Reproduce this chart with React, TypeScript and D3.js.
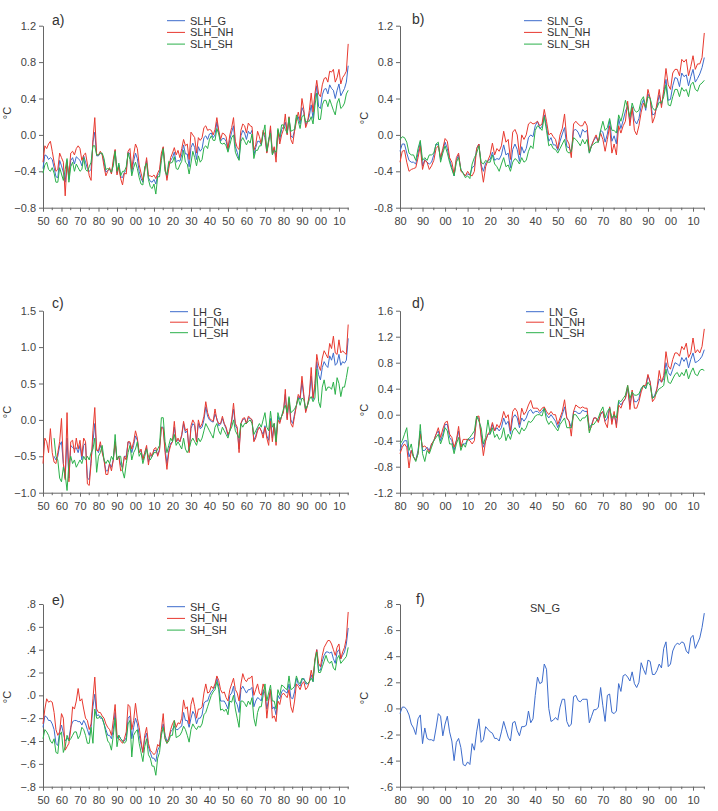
import React from 'react';
import * as d3 from 'd3';

const BLUE = '#3d6ccc';
const RED = '#e8392f';
const GREEN = '#2bb14a';
const FONT = 'Liberation Sans, Arial, sans-serif';

// annual series, HadCRUT-style records run 1850-2015, NOAA-style 1880-2015
const yearsH = d3.range(1850, 2016);
const yearsN = d3.range(1880, 2016);

const slhG = [
  -0.37,-0.22,-0.23,-0.27,-0.25,-0.27,-0.36,-0.46,-0.47,-0.28,
  -0.34,-0.41,-0.52,-0.28,-0.49,-0.28,-0.25,-0.32,-0.24,-0.26,
  -0.28,-0.34,-0.23,-0.30,-0.37,-0.40,-0.38,-0.08,0.03,-0.23,
  -0.23,-0.20,-0.21,-0.30,-0.41,-0.39,-0.37,-0.42,-0.31,-0.17,
  -0.42,-0.33,-0.46,-0.47,-0.41,-0.39,-0.19,-0.21,-0.41,-0.29,
  -0.20,-0.26,-0.40,-0.48,-0.52,-0.38,-0.28,-0.47,-0.51,-0.52,
  -0.49,-0.54,-0.44,-0.42,-0.24,-0.14,-0.38,-0.47,-0.33,-0.28,
  -0.25,-0.19,-0.30,-0.28,-0.29,-0.22,-0.11,-0.21,-0.21,-0.35,
  -0.14,-0.09,-0.14,-0.27,-0.13,-0.18,-0.15,-0.03,-0.01,-0.05,
  0.01,0.02,-0.03,0.00,0.14,0.03,-0.07,-0.04,-0.04,-0.07,
  -0.17,-0.05,0.03,0.10,-0.13,-0.19,-0.27,-0.01,0.05,0.02,
  -0.05,0.04,0.01,0.05,-0.22,-0.14,-0.07,-0.07,-0.11,0.03,
  -0.03,-0.19,-0.07,0.06,-0.21,-0.15,-0.24,0.05,-0.06,0.06,
  0.09,0.14,0.01,0.19,-0.01,-0.03,0.05,0.19,0.20,0.12,
  0.30,0.25,0.11,0.15,0.21,0.33,0.18,0.39,0.54,0.31,
  0.29,0.44,0.50,0.51,0.45,0.55,0.51,0.49,0.40,0.49,
  0.56,0.43,0.47,0.51,0.58,0.76,
];
const slhNH = [
  -0.30,-0.12,-0.15,-0.10,-0.07,-0.18,-0.30,-0.40,-0.38,-0.20,
  -0.25,-0.30,-0.67,-0.30,-0.45,-0.20,-0.18,-0.22,-0.15,-0.12,
  -0.15,-0.28,-0.22,-0.20,-0.32,-0.45,-0.50,-0.05,0.19,-0.22,
  -0.22,-0.18,-0.22,-0.35,-0.45,-0.40,-0.36,-0.43,-0.27,-0.16,
  -0.44,-0.35,-0.48,-0.55,-0.42,-0.43,-0.18,-0.15,-0.38,-0.22,
  -0.10,-0.15,-0.33,-0.42,-0.50,-0.40,-0.25,-0.45,-0.45,-0.46,
  -0.44,-0.48,-0.42,-0.38,-0.20,-0.13,-0.35,-0.50,-0.37,-0.25,
  -0.20,-0.14,-0.22,-0.17,-0.25,-0.15,-0.05,-0.12,-0.10,-0.27,
  0.03,0.00,-0.03,-0.20,-0.03,-0.06,-0.03,0.08,0.10,0.05,
  0.06,0.05,0.00,0.06,0.19,0.05,-0.05,0.02,0.01,-0.02,
  -0.15,0.00,0.08,0.19,-0.07,-0.14,-0.16,0.05,0.12,0.10,
  0.02,0.13,0.10,0.09,-0.17,-0.11,0.04,-0.02,-0.10,0.05,
  0.00,-0.20,-0.08,0.10,-0.20,-0.13,-0.30,0.05,-0.10,0.00,
  0.06,0.23,0.00,0.20,-0.05,-0.10,0.04,0.15,0.25,0.16,
  0.40,0.28,0.08,0.14,0.27,0.46,0.25,0.45,0.60,0.45,
  0.42,0.55,0.62,0.63,0.58,0.70,0.69,0.72,0.58,0.63,
  0.72,0.56,0.63,0.66,0.70,1.00,
];
const slhSH = [
  -0.42,-0.33,-0.30,-0.38,-0.40,-0.36,-0.42,-0.52,-0.52,-0.36,
  -0.43,-0.50,-0.38,-0.26,-0.52,-0.35,-0.30,-0.40,-0.32,-0.36,
  -0.40,-0.38,-0.25,-0.38,-0.40,-0.35,-0.30,-0.12,-0.12,-0.22,
  -0.22,-0.20,-0.20,-0.26,-0.38,-0.37,-0.38,-0.41,-0.34,-0.18,
  -0.40,-0.31,-0.45,-0.40,-0.40,-0.35,-0.20,-0.27,-0.45,-0.36,
  -0.30,-0.37,-0.47,-0.54,-0.55,-0.35,-0.31,-0.49,-0.57,-0.59,
  -0.54,-0.65,-0.46,-0.46,-0.28,-0.15,-0.40,-0.44,-0.29,-0.31,
  -0.30,-0.24,-0.37,-0.38,-0.33,-0.29,-0.17,-0.30,-0.32,-0.43,
  -0.31,-0.18,-0.25,-0.34,-0.23,-0.30,-0.27,-0.14,-0.12,-0.15,
  -0.05,-0.01,-0.06,-0.06,0.07,0.01,-0.09,-0.10,-0.09,-0.12,
  -0.19,-0.11,-0.03,0.00,-0.19,-0.24,-0.28,-0.07,-0.03,-0.07,
  -0.11,-0.06,-0.09,0.01,-0.26,-0.17,-0.17,-0.12,-0.12,0.01,
  0.11,-0.18,-0.05,0.02,-0.22,-0.17,-0.19,0.07,-0.02,0.11,
  0.11,0.06,0.02,0.19,0.04,0.05,0.06,0.22,0.15,0.07,
  0.20,0.22,0.14,0.15,0.15,0.20,0.12,0.32,0.46,0.17,
  0.17,0.33,0.38,0.38,0.31,0.39,0.33,0.27,0.22,0.35,
  0.40,0.29,0.31,0.35,0.45,0.49,
];

const slnG = [
  -0.18,-0.10,-0.10,-0.20,-0.28,-0.30,-0.30,-0.32,-0.20,-0.08,
  -0.34,-0.27,-0.30,-0.32,-0.30,-0.22,-0.10,-0.11,-0.27,-0.17,
  -0.08,-0.15,-0.27,-0.36,-0.45,-0.28,-0.22,-0.38,-0.42,-0.45,
  -0.43,-0.44,-0.36,-0.34,-0.15,-0.10,-0.33,-0.40,-0.31,-0.28,
  -0.27,-0.19,-0.28,-0.26,-0.27,-0.22,-0.11,-0.22,-0.20,-0.36,
  -0.16,-0.10,-0.16,-0.29,-0.13,-0.20,-0.15,-0.03,0.00,-0.02,
  0.10,0.15,0.07,0.09,0.22,0.09,-0.07,-0.03,-0.11,-0.11,
  -0.17,-0.07,0.01,0.08,-0.13,-0.14,-0.19,0.05,0.06,0.03,
  -0.03,0.06,0.03,0.05,-0.20,-0.11,-0.06,-0.02,-0.08,0.05,
  0.03,-0.08,0.01,0.16,-0.07,-0.01,-0.10,0.18,0.07,0.16,
  0.26,0.32,0.14,0.31,0.16,0.12,0.18,0.32,0.39,0.27,
  0.45,0.40,0.22,0.23,0.31,0.44,0.33,0.46,0.61,0.38,
  0.39,0.54,0.63,0.62,0.53,0.68,0.64,0.66,0.54,0.64,
  0.72,0.58,0.62,0.67,0.74,0.85,
];
const slnNH = [
  -0.30,-0.18,-0.17,-0.30,-0.40,-0.38,-0.37,-0.36,-0.25,-0.12,
  -0.38,-0.28,-0.30,-0.38,-0.34,-0.28,-0.15,-0.12,-0.25,-0.15,
  -0.04,-0.07,-0.25,-0.30,-0.43,-0.25,-0.20,-0.40,-0.42,-0.45,
  -0.40,-0.44,-0.45,-0.40,-0.15,-0.10,-0.35,-0.52,-0.35,-0.28,
  -0.22,-0.09,-0.22,-0.15,-0.18,-0.12,0.04,-0.08,-0.05,-0.27,
  0.03,0.06,0.00,-0.22,0.00,-0.05,0.00,0.12,0.14,0.12,
  0.13,0.15,0.10,0.12,0.28,0.15,0.00,0.02,-0.02,-0.05,
  -0.15,0.00,0.07,0.23,-0.05,-0.10,-0.25,0.12,0.15,0.12,
  0.10,0.10,0.15,0.10,-0.18,-0.12,-0.05,0.00,-0.08,0.02,
  -0.05,-0.18,-0.05,0.10,-0.20,-0.10,-0.22,0.10,0.02,0.10,
  0.15,0.37,0.10,0.30,0.05,0.00,0.10,0.25,0.35,0.30,
  0.50,0.40,0.13,0.20,0.35,0.50,0.30,0.50,0.73,0.55,
  0.50,0.68,0.72,0.72,0.65,0.83,0.80,0.83,0.65,0.75,
  0.87,0.72,0.78,0.78,0.85,1.12,
];
const slnSH = [
  -0.05,-0.02,-0.03,-0.08,-0.20,-0.22,-0.22,-0.28,-0.15,-0.06,
  -0.28,-0.25,-0.28,-0.22,-0.22,-0.20,-0.10,-0.08,-0.30,-0.20,
  -0.12,-0.20,-0.30,-0.38,-0.45,-0.30,-0.25,-0.38,-0.42,-0.47,
  -0.45,-0.48,-0.32,-0.25,-0.20,-0.12,-0.30,-0.32,-0.28,-0.30,
  -0.30,-0.22,-0.32,-0.35,-0.40,-0.32,-0.25,-0.35,-0.33,-0.40,
  -0.30,-0.26,-0.28,-0.32,-0.25,-0.30,-0.28,-0.18,-0.12,-0.15,
  0.05,0.10,0.08,0.05,0.20,0.05,-0.12,-0.10,-0.15,-0.16,
  -0.20,-0.15,-0.10,-0.05,-0.18,-0.20,-0.18,-0.03,-0.05,-0.08,
  -0.12,-0.05,-0.10,-0.05,-0.20,-0.12,-0.10,-0.08,-0.08,0.05,
  0.15,0.05,0.08,0.18,0.05,0.05,0.02,0.22,0.15,0.25,
  0.38,0.30,0.20,0.35,0.27,0.25,0.27,0.38,0.42,0.30,
  0.42,0.40,0.30,0.27,0.30,0.36,0.35,0.42,0.55,0.33,
  0.32,0.42,0.50,0.50,0.42,0.52,0.48,0.50,0.42,0.55,
  0.58,0.50,0.48,0.55,0.57,0.60,
];

// land records: the global and southern series begin in 1856
const lhG = [
  null,null,null,null,null,null,-0.50,-0.55,-0.50,-0.35,
  -0.30,-0.60,-0.80,-0.25,-0.80,-0.35,-0.38,-0.40,-0.38,-0.45,
  -0.35,-0.55,-0.35,-0.32,-0.80,-0.82,-0.55,-0.30,-0.05,-0.40,
  -0.45,-0.35,-0.42,-0.55,-0.70,-0.70,-0.60,-0.65,-0.55,-0.30,
  -0.55,-0.50,-0.62,-0.65,-0.50,-0.50,-0.30,-0.32,-0.45,-0.35,
  -0.22,-0.28,-0.45,-0.42,-0.55,-0.45,-0.38,-0.58,-0.48,-0.50,
  -0.42,-0.42,-0.48,-0.40,-0.10,-0.10,-0.40,-0.60,-0.42,-0.32,
  -0.30,-0.10,-0.30,-0.27,-0.30,-0.22,-0.05,-0.18,-0.15,-0.42,
  -0.12,-0.05,-0.08,-0.30,-0.05,-0.12,-0.10,0.00,0.18,0.05,
  0.00,-0.02,-0.03,0.08,0.02,-0.08,-0.06,0.02,-0.06,-0.12,
  -0.22,-0.15,-0.02,0.15,-0.08,-0.12,-0.40,-0.05,0.00,0.02,
  -0.05,0.03,0.02,0.00,-0.28,-0.22,-0.12,-0.10,-0.15,-0.20,
  -0.08,-0.22,-0.28,0.02,-0.25,-0.05,-0.30,0.05,-0.03,0.05,
  0.12,0.35,0.02,0.28,0.00,-0.05,0.08,0.20,0.32,0.28,
  0.52,0.32,0.12,0.20,0.32,0.60,0.28,0.45,0.80,0.62,
  0.55,0.72,0.80,0.75,0.72,0.88,0.82,0.92,0.75,0.78,
  0.90,0.75,0.80,0.78,0.82,1.12,
];
const lhNH = [
  -0.60,-0.25,-0.30,-0.45,-0.12,-0.45,-0.58,-0.60,-0.45,-0.30,
  0.02,-0.60,-0.82,0.10,-0.85,-0.30,-0.28,-0.45,-0.25,-0.40,
  -0.28,-0.50,-0.25,-0.30,-0.88,-0.90,-0.60,-0.15,0.17,-0.42,
  -0.42,-0.30,-0.45,-0.55,-0.75,-0.75,-0.60,-0.70,-0.55,-0.30,
  -0.55,-0.50,-0.70,-0.68,-0.50,-0.55,-0.30,-0.30,-0.40,-0.30,
  -0.15,-0.25,-0.45,-0.40,-0.55,-0.45,-0.35,-0.62,-0.45,-0.50,
  -0.40,-0.38,-0.50,-0.42,-0.10,-0.12,-0.45,-0.68,-0.45,-0.35,
  -0.30,-0.02,-0.30,-0.25,-0.30,-0.20,-0.02,-0.15,-0.12,-0.45,
  -0.08,0.00,-0.05,-0.30,0.00,-0.10,-0.05,0.05,0.25,0.10,
  0.02,0.00,-0.02,0.15,0.00,-0.05,-0.05,0.05,-0.05,-0.10,
  -0.20,-0.15,0.00,0.23,-0.05,-0.10,-0.45,-0.05,0.02,0.03,
  -0.05,0.05,0.03,0.00,-0.30,-0.25,-0.15,-0.10,-0.15,-0.25,
  -0.10,-0.25,-0.35,-0.02,-0.30,-0.05,-0.35,0.00,-0.05,0.05,
  0.10,0.42,0.00,0.30,-0.05,-0.10,0.05,0.20,0.35,0.30,
  0.60,0.35,0.10,0.20,0.35,0.72,0.30,0.50,0.90,0.75,
  0.68,0.85,0.95,0.90,0.85,1.05,0.98,1.15,0.92,0.90,
  1.10,0.92,0.95,0.92,0.90,1.31,
];
const lhSH = [
  null,null,null,null,null,null,-0.25,-0.50,-0.55,-0.80,
  -0.85,-0.65,-0.75,-0.97,-0.60,-0.50,-0.60,-0.55,-0.65,-0.60,
  -0.55,-0.60,-0.50,-0.55,-0.50,-0.55,-0.45,-0.40,-0.25,-0.72,
  -0.50,-0.45,-0.35,-0.55,-0.60,-0.55,-0.60,-0.50,-0.55,-0.20,
  -0.55,-0.50,-0.50,-0.70,-0.80,-0.60,-0.45,-0.35,-0.55,-0.45,
  -0.40,-0.30,-0.50,-0.45,-0.60,-0.50,-0.40,-0.50,-0.55,-0.50,
  -0.45,-0.45,-0.40,-0.35,0.03,0.03,-0.30,-0.45,-0.35,-0.25,
  -0.30,-0.20,-0.35,-0.30,-0.35,-0.40,-0.25,-0.40,-0.45,-0.40,
  -0.30,-0.25,-0.30,-0.35,-0.25,-0.30,-0.25,-0.15,-0.05,-0.10,
  -0.15,-0.20,-0.25,-0.10,-0.05,-0.15,-0.20,-0.10,-0.15,-0.20,
  -0.25,-0.15,-0.10,0.00,-0.15,-0.20,-0.25,-0.05,-0.10,-0.05,
  -0.05,-0.02,0.00,-0.05,-0.20,-0.15,-0.10,-0.05,-0.10,0.00,
  0.10,-0.10,-0.15,0.12,-0.10,-0.05,-0.30,0.10,0.00,0.05,
  0.15,0.20,0.10,0.32,0.10,0.12,0.15,0.20,0.30,0.20,
  0.30,0.28,0.15,0.20,0.28,0.32,0.25,0.30,0.70,0.25,
  0.17,0.45,0.55,0.40,0.45,0.45,0.42,0.52,0.35,0.58,
  0.50,0.32,0.45,0.45,0.58,0.73,
];

const lnG = [
  -0.55,-0.45,-0.40,-0.40,-0.65,-0.55,-0.65,-0.70,-0.55,-0.25,
  -0.55,-0.55,-0.50,-0.55,-0.45,-0.40,-0.30,-0.25,-0.40,-0.30,
  -0.15,-0.15,-0.35,-0.40,-0.55,-0.40,-0.25,-0.50,-0.45,-0.45,
  -0.38,-0.38,-0.37,-0.35,-0.05,-0.05,-0.30,-0.50,-0.40,-0.30,
  -0.30,-0.15,-0.25,-0.20,-0.25,-0.20,-0.05,-0.15,-0.10,-0.30,
  -0.05,0.00,-0.05,-0.20,-0.05,-0.10,-0.05,0.05,0.08,0.02,
  0.05,0.05,0.02,0.05,0.10,0.00,-0.05,0.00,-0.05,-0.10,
  -0.20,-0.10,0.00,0.12,-0.05,-0.10,-0.20,0.05,0.05,0.02,
  0.02,0.07,0.05,0.05,-0.20,-0.15,-0.05,-0.05,-0.10,0.00,
  0.05,-0.10,-0.05,0.12,-0.10,0.00,-0.15,0.20,0.15,0.20,
  0.25,0.40,0.15,0.35,0.20,0.20,0.25,0.40,0.45,0.40,
  0.60,0.50,0.25,0.30,0.40,0.55,0.50,0.55,0.80,0.65,
  0.60,0.70,0.80,0.78,0.75,0.88,0.82,0.88,0.72,0.85,
  0.95,0.80,0.82,0.85,0.90,1.00,
];
const lnNH = [
  -0.60,-0.50,-0.45,-0.50,-0.82,-0.55,-0.65,-0.70,-0.60,-0.30,
  -0.50,-0.48,-0.52,-0.58,-0.45,-0.40,-0.30,-0.20,-0.35,-0.22,
  -0.12,-0.10,-0.30,-0.35,-0.50,-0.40,-0.18,-0.50,-0.38,-0.38,
  -0.38,-0.40,-0.45,-0.40,-0.03,-0.02,-0.35,-0.63,-0.40,-0.30,
  -0.25,-0.12,-0.25,-0.15,-0.20,-0.10,0.05,-0.05,0.00,-0.25,
  0.05,0.10,0.05,-0.15,0.10,0.00,0.05,0.15,0.22,0.10,
  0.10,0.10,0.05,0.10,0.12,0.05,0.00,0.05,0.00,0.00,
  -0.15,-0.05,0.05,0.23,-0.05,-0.10,-0.33,0.05,0.15,0.12,
  0.10,0.12,0.10,0.10,-0.25,-0.18,-0.05,-0.05,-0.12,0.02,
  0.05,-0.12,-0.20,0.12,-0.15,0.05,-0.20,0.15,0.10,0.20,
  0.25,0.45,0.08,0.38,0.10,0.10,0.20,0.35,0.45,0.45,
  0.62,0.50,0.20,0.25,0.40,0.68,0.50,0.60,0.97,0.75,
  0.70,0.85,0.95,0.95,0.90,1.05,1.00,1.10,0.88,0.95,
  1.18,0.95,1.00,0.95,1.05,1.32,
];
const lnSH = [
  -0.45,-0.40,-0.30,-0.20,-0.55,-0.45,-0.65,-0.72,-0.60,-0.15,
  -0.60,-0.72,-0.55,-0.60,-0.50,-0.40,-0.35,-0.30,-0.45,-0.35,
  -0.20,-0.25,-0.45,-0.45,-0.60,-0.45,-0.35,-0.55,-0.45,-0.50,
  -0.38,-0.35,-0.30,-0.25,-0.02,-0.10,-0.20,-0.45,-0.35,-0.08,
  -0.30,-0.20,-0.35,-0.30,-0.38,-0.35,-0.20,-0.40,-0.30,-0.38,
  -0.25,-0.20,-0.25,-0.30,-0.20,-0.25,-0.20,-0.10,-0.12,-0.08,
  -0.02,0.00,0.00,-0.02,0.10,-0.08,-0.15,-0.10,-0.15,-0.20,
  -0.25,-0.15,-0.10,-0.05,-0.20,-0.20,-0.20,0.00,0.00,-0.05,
  -0.10,-0.05,-0.05,0.00,-0.28,-0.15,-0.15,-0.10,-0.05,0.05,
  0.12,-0.05,0.05,0.10,-0.05,0.00,-0.05,0.22,0.20,0.25,
  0.30,0.45,0.25,0.35,0.30,0.30,0.32,0.40,0.45,0.40,
  0.50,0.45,0.25,0.28,0.35,0.40,0.42,0.45,0.70,0.50,
  0.48,0.55,0.62,0.65,0.58,0.65,0.60,0.70,0.55,0.65,
  0.72,0.62,0.60,0.68,0.70,0.68,
];

const shG = [
  -0.28,-0.18,-0.19,-0.22,-0.22,-0.25,-0.30,-0.42,-0.44,-0.32,
  -0.26,-0.33,-0.40,-0.38,-0.38,-0.28,-0.23,-0.22,-0.22,-0.23,
  -0.23,-0.26,-0.22,-0.25,-0.30,-0.35,-0.28,-0.10,0.01,-0.18,
  -0.17,-0.20,-0.20,-0.25,-0.30,-0.35,-0.35,-0.38,-0.30,-0.15,
  -0.38,-0.35,-0.38,-0.40,-0.40,-0.37,-0.20,-0.18,-0.38,-0.28,
  -0.20,-0.25,-0.35,-0.43,-0.50,-0.38,-0.33,-0.45,-0.50,-0.55,
  -0.55,-0.58,-0.48,-0.45,-0.32,-0.25,-0.35,-0.40,-0.38,-0.32,
  -0.30,-0.27,-0.30,-0.30,-0.28,-0.27,-0.15,-0.22,-0.22,-0.28,
  -0.20,-0.14,-0.17,-0.25,-0.20,-0.20,-0.17,-0.07,-0.05,-0.05,
  0.00,0.03,0.05,0.08,0.15,0.08,-0.05,-0.05,-0.05,-0.08,
  -0.12,0.00,0.02,0.08,-0.05,-0.08,-0.15,0.05,0.08,0.05,
  0.02,0.05,0.05,0.07,-0.10,-0.05,-0.02,-0.03,-0.05,0.05,
  0.02,-0.12,-0.03,0.05,-0.12,-0.10,-0.17,0.00,-0.03,0.03,
  0.05,0.03,0.02,0.10,-0.02,-0.03,0.03,0.15,0.10,0.08,
  0.13,0.15,0.10,0.10,0.12,0.18,0.12,0.30,0.40,0.22,
  0.22,0.30,0.35,0.38,0.38,0.37,0.38,0.32,0.28,0.38,
  0.40,0.32,0.35,0.38,0.45,0.59,
];
const shNH = [
  -0.25,-0.12,-0.03,-0.06,-0.05,-0.06,-0.15,-0.30,-0.35,-0.32,
  -0.16,-0.20,-0.48,-0.45,-0.42,-0.30,-0.10,-0.12,-0.05,0.06,
  -0.05,-0.03,-0.12,-0.20,-0.22,-0.30,-0.25,-0.03,0.16,-0.12,
  -0.15,-0.15,-0.18,-0.20,-0.25,-0.28,-0.30,-0.35,-0.22,-0.08,
  -0.35,-0.38,-0.40,-0.42,-0.38,-0.32,-0.08,-0.10,-0.30,-0.22,
  -0.07,-0.20,-0.28,-0.40,-0.50,-0.35,-0.28,-0.42,-0.48,-0.50,
  -0.52,-0.50,-0.43,-0.45,-0.30,-0.16,-0.38,-0.42,-0.38,-0.30,
  -0.25,-0.22,-0.28,-0.24,-0.25,-0.20,-0.04,-0.12,-0.10,-0.25,
  -0.08,-0.02,-0.10,-0.20,-0.12,-0.12,-0.10,0.02,0.10,0.02,
  0.03,0.08,0.06,0.10,0.17,0.13,0.05,0.02,0.03,-0.02,
  -0.05,0.05,0.10,0.15,0.05,0.02,-0.05,0.10,0.19,0.14,
  0.12,0.15,0.15,0.17,0.00,0.05,0.10,0.02,0.00,0.10,
  0.05,-0.20,-0.05,0.05,-0.20,-0.18,-0.23,-0.05,-0.08,0.00,
  0.02,0.00,-0.02,0.05,-0.10,-0.15,-0.05,0.10,0.08,0.05,
  0.10,0.12,0.05,0.07,0.12,0.22,0.15,0.32,0.40,0.28,
  0.25,0.35,0.42,0.45,0.48,0.48,0.45,0.40,0.35,0.42,
  0.45,0.32,0.38,0.42,0.50,0.73,
];
const shSH = [
  -0.38,-0.30,-0.32,-0.35,-0.40,-0.42,-0.38,-0.50,-0.51,-0.35,
  -0.32,-0.50,-0.45,-0.35,-0.40,-0.38,-0.35,-0.32,-0.32,-0.38,
  -0.35,-0.28,-0.30,-0.35,-0.42,-0.42,-0.28,-0.42,-0.12,-0.20,
  -0.20,-0.18,-0.20,-0.25,-0.33,-0.40,-0.42,-0.48,-0.35,-0.20,
  -0.45,-0.35,-0.38,-0.40,-0.42,-0.40,-0.25,-0.22,-0.54,-0.35,
  -0.32,-0.30,-0.42,-0.50,-0.58,-0.45,-0.38,-0.52,-0.55,-0.62,
  -0.62,-0.70,-0.55,-0.50,-0.35,-0.28,-0.38,-0.42,-0.40,-0.35,
  -0.35,-0.22,-0.37,-0.36,-0.35,-0.32,-0.27,-0.30,-0.35,-0.41,
  -0.30,-0.25,-0.28,-0.30,-0.27,-0.28,-0.25,-0.17,-0.15,-0.10,
  -0.05,0.00,0.03,0.05,0.12,0.05,-0.13,-0.12,-0.14,-0.12,
  -0.17,-0.05,-0.06,0.00,-0.12,-0.20,-0.28,-0.05,-0.05,-0.07,
  -0.10,-0.05,-0.08,-0.02,-0.20,-0.27,-0.15,-0.10,-0.10,0.00,
  0.10,-0.05,0.02,0.09,-0.05,-0.05,-0.12,0.05,0.00,0.09,
  0.08,0.06,0.05,0.17,0.05,0.06,0.08,0.17,0.12,0.10,
  0.15,0.14,0.12,0.10,0.12,0.15,0.12,0.30,0.38,0.20,
  0.20,0.25,0.30,0.35,0.30,0.28,0.30,0.24,0.22,0.32,
  0.35,0.28,0.30,0.32,0.34,0.42,
];

const snG = [
  -0.04,0.01,0.01,-0.01,-0.05,-0.12,-0.15,-0.20,-0.08,-0.05,
  -0.27,-0.15,-0.23,-0.24,-0.24,-0.25,-0.15,-0.04,-0.06,-0.21,
  -0.12,-0.06,-0.18,-0.25,-0.40,-0.26,-0.23,-0.30,-0.43,-0.44,
  -0.41,-0.43,-0.27,-0.32,-0.18,-0.08,-0.26,-0.24,-0.14,-0.16,
  -0.18,-0.19,-0.23,-0.23,-0.25,-0.18,-0.10,-0.16,-0.22,-0.25,
  -0.11,-0.10,-0.17,-0.21,-0.14,-0.14,-0.13,-0.02,-0.11,-0.08,
  0.10,0.24,0.19,0.20,0.34,0.30,0.00,-0.10,-0.09,-0.07,
  -0.09,0.01,0.07,0.07,-0.10,-0.14,-0.12,0.09,0.10,0.06,
  0.05,0.07,0.07,0.07,-0.11,-0.06,-0.01,-0.01,0.01,0.16,
  0.02,-0.10,0.10,0.11,-0.03,-0.04,-0.02,0.19,0.13,0.25,
  0.26,0.24,0.21,0.28,0.19,0.16,0.20,0.35,0.30,0.26,
  0.37,0.36,0.26,0.26,0.29,0.34,0.31,0.46,0.51,0.32,
  0.34,0.44,0.48,0.50,0.49,0.51,0.50,0.44,0.42,0.54,
  0.56,0.46,0.50,0.54,0.62,0.73,
];

const decadeLabel = (yr: number) => String(yr % 100).padStart(2, '0');
const minus = (s: string) => s.replace('-', '\u2212');

// column x-extent of the plot areas, row y-extent (top tick, bottom tick)
const COLS = [
  { x0: 43, x1: 348.2, first: 1850, last: 2015 },
  { x0: 400, x1: 704.3, first: 1880, last: 2015 },
];
const ROWS = [
  { top: 25.7, bottom: 207.7 },
  { top: 310.7, bottom: 492.7 },
  { top: 604, bottom: 786.7 },
];

type Series = { name: string; color: string; values: (number | null)[] };
type Panel = {
  tag: string; col: number; row: number; years: number[];
  series: Series[]; yTicks: number[]; fmt: (v: number) => string;
  legend: { x: number; y: number; dy: number }; title?: { x: number; y: number; text: string };
  tagY: number; tagX: number; unitY: number;
};

const PANELS: Panel[] = [
  {
    tag: 'a)', col: 0, row: 0, years: yearsH, tagX: 52, tagY: 25, unitY: 113,
    series: [
      { name: 'SLH_G', color: BLUE, values: slhG },
      { name: 'SLH_NH', color: RED, values: slhNH },
      { name: 'SLH_SH', color: GREEN, values: slhSH },
    ],
    yTicks: [-0.8, -0.4, 0, 0.4, 0.8, 1.2], fmt: (v) => minus(v.toFixed(1)),
    legend: { x: 167, y: 20.7, dy: 11.7 },
  },
  {
    tag: 'b)', col: 1, row: 0, years: yearsN, tagX: 412, tagY: 24, unitY: 118,
    series: [
      { name: 'SLN_G', color: BLUE, values: slnG },
      { name: 'SLN_NH', color: RED, values: slnNH },
      { name: 'SLN_SH', color: GREEN, values: slnSH },
    ],
    yTicks: [-0.8, -0.4, 0, 0.4, 0.8, 1.2], fmt: (v) => v.toFixed(1),
    legend: { x: 524, y: 20.7, dy: 11.7 },
  },
  {
    tag: 'c)', col: 0, row: 1, years: yearsH, tagX: 52, tagY: 308, unitY: 412,
    series: [
      { name: 'LH_G', color: BLUE, values: lhG },
      { name: 'LH_NH', color: RED, values: lhNH },
      { name: 'LH_SH', color: GREEN, values: lhSH },
    ],
    yTicks: [-1, -0.5, 0, 0.5, 1, 1.5], fmt: (v) => minus(v.toFixed(1)),
    legend: { x: 170, y: 311.7, dy: 10.5 },
  },
  {
    tag: 'd)', col: 1, row: 1, years: yearsN, tagX: 412, tagY: 308, unitY: 410,
    series: [
      { name: 'LN_G', color: BLUE, values: lnG },
      { name: 'LN_NH', color: RED, values: lnNH },
      { name: 'LN_SH', color: GREEN, values: lnSH },
    ],
    yTicks: [-1.2, -0.8, -0.4, 0, 0.4, 0.8, 1.2, 1.6], fmt: (v) => v.toFixed(1),
    legend: { x: 526, y: 311.7, dy: 10.5 },
  },
  {
    tag: 'e)', col: 0, row: 2, years: yearsH, tagX: 52, tagY: 605, unitY: 697,
    series: [
      { name: 'SH_G', color: BLUE, values: shG },
      { name: 'SH_NH', color: RED, values: shNH },
      { name: 'SH_SH', color: GREEN, values: shSH },
    ],
    yTicks: [-0.8, -0.6, -0.4, -0.2, 0, 0.2, 0.4, 0.6, 0.8],
    fmt: (v) => minus(v.toFixed(1).replace('0.', '.')),
    legend: { x: 167, y: 606.7, dy: 11.7 },
  },
  {
    tag: 'f)', col: 1, row: 2, years: yearsN, tagX: 416, tagY: 604, unitY: 698,
    series: [{ name: 'SN_G', color: BLUE, values: snG }],
    yTicks: [-0.6, -0.4, -0.2, 0, 0.2, 0.4, 0.6, 0.8],
    fmt: (v) => v.toFixed(1).replace('0.', '.'),
    legend: { x: 526, y: 606.7, dy: 11.7 },
    title: { x: 545, y: 612, text: 'SN_G' },
  },
];

function drawPanel(svg: d3.Selection<SVGSVGElement, unknown, null, undefined>, p: Panel) {
  const col = COLS[p.col];
  const row = ROWS[p.row];
  const x = d3.scaleLinear().domain([col.first, col.last]).range([col.x0, col.x1]);
  const y = d3.scaleLinear()
    .domain([p.yTicks[0], p.yTicks[p.yTicks.length - 1]])
    .range([row.bottom, row.top]);

  const g = svg.append('g').attr('font-family', FONT);

  // y axis
  const yAxis = g.append('g')
    .attr('transform', `translate(${col.x0},0)`)
    .call(d3.axisLeft(y).tickValues(p.yTicks).tickFormat((d) => p.fmt(+d))
      .tickSize(4).tickSizeOuter(0).tickPadding(3));

  // x axis: labelled decades plus minor ticks every five years
  const decades = d3.range(Math.ceil(col.first / 10) * 10, col.last + 1, 10);
  const halves = d3.range(col.first + 5, col.last + 1, 10).filter((v) => v % 10 === 5);
  const xAxis = g.append('g')
    .attr('transform', `translate(0,${row.bottom})`)
    .call(d3.axisBottom(x).tickValues(decades).tickFormat((d) => decadeLabel(+d))
      .tickSize(4).tickSizeOuter(0).tickPadding(6));
  g.append('g')
    .attr('transform', `translate(0,${row.bottom})`)
    .selectAll('line')
    .data(halves)
    .join('line')
    .attr('x1', (d) => x(d)).attr('x2', (d) => x(d))
    .attr('y1', 0).attr('y2', 2.5)
    .attr('stroke', '#666');

  [yAxis, xAxis].forEach((a) => {
    a.selectAll('path').attr('stroke', '#666');
    a.selectAll('line').attr('stroke', '#666');
    a.selectAll('text').attr('fill', '#444').attr('font-size', 11).attr('font-family', FONT);
  });

  // series lines
  const line = d3.line<number | null>()
    .defined((v) => v !== null)
    .x((_, i) => x(p.years[i]))
    .y((v) => y(v as number));

  g.append('g')
    .selectAll('path')
    .data(p.series)
    .join('path')
    .attr('d', (s) => line(s.values))
    .attr('fill', 'none')
    .attr('stroke', (s) => s.color)
    .attr('stroke-width', 1)
    .attr('stroke-linejoin', 'round');

  // legend or single title
  if (p.title) {
    g.append('text')
      .attr('x', p.title.x).attr('y', p.title.y)
      .attr('text-anchor', 'middle')
      .attr('font-size', 11).attr('fill', '#333')
      .text(p.title.text);
  } else {
    const lg = g.append('g')
      .selectAll('g')
      .data(p.series)
      .join('g')
      .attr('transform', (_, i) => `translate(${p.legend.x},${p.legend.y + i * p.legend.dy})`);
    lg.append('line')
      .attr('x1', 0).attr('x2', 18).attr('y1', 0).attr('y2', 0)
      .attr('stroke', (s) => s.color).attr('stroke-width', 1);
    lg.append('text')
      .attr('x', 23).attr('y', 4)
      .attr('font-size', 11).attr('fill', '#333')
      .text((s) => s.name);
  }

  // panel tag and unit label
  g.append('text')
    .attr('x', p.tagX).attr('y', p.tagY)
    .attr('font-size', 14).attr('fill', '#333')
    .text(p.tag);
  g.append('text')
    .attr('transform', `translate(${col.x0 - 32},${p.unitY}) rotate(-90)`)
    .attr('text-anchor', 'middle')
    .attr('font-size', 11).attr('fill', '#333')
    .text('\u00b0C');
}

const App = () => {
  const ref = React.useRef<SVGSVGElement>(null);

  React.useEffect(() => {
    document.body.style.margin = '0';
    const svg = d3.select(ref.current as SVGSVGElement);
    svg.selectAll('*').remove();
    PANELS.forEach((p) => drawPanel(svg, p));
  }, []);

  return <svg ref={ref} width={718} height={811} style={{ display: 'block', background: '#fff' }} />;
};

export default App;
